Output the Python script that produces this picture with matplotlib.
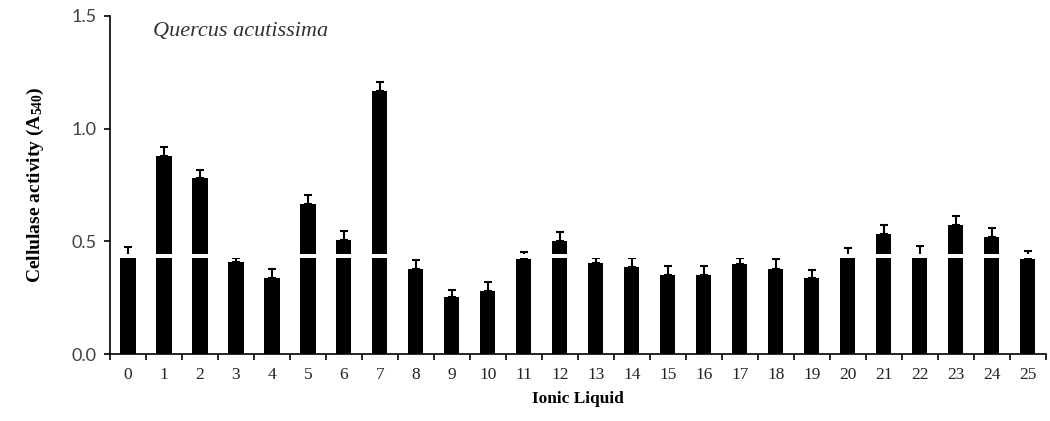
import numpy as np
import matplotlib
matplotlib.use("Agg")
import matplotlib.pyplot as plt
from matplotlib.ticker import FixedLocator

plt.rcParams["mathtext.fontset"] = "custom"
plt.rcParams["mathtext.rm"] = "Liberation Serif:bold"
plt.rcParams["mathtext.it"] = "Liberation Serif:bold"
plt.rcParams["mathtext.bf"] = "Liberation Serif:bold"

# values
ionic_liquid = [str(i) for i in range(26)]
activity = [0.425, 0.88, 0.779, 0.41, 0.336, 0.667, 0.507, 1.167, 0.379, 0.251,
            0.278, 0.42, 0.50, 0.405, 0.387, 0.353, 0.353, 0.399, 0.379, 0.339,
            0.43, 0.534, 0.427, 0.574, 0.521, 0.42]
err_up = [0.052, 0.04, 0.039, 0.015, 0.042, 0.038, 0.038, 0.04, 0.04, 0.033,
          0.04, 0.032, 0.04, 0.021, 0.039, 0.038, 0.038, 0.027, 0.041, 0.032,
          0.042, 0.039, 0.052, 0.039, 0.039, 0.038]
yticks = [0.0, 0.5, 1.0, 1.5]

fig = plt.figure(figsize=(10.5, 4.21), dpi=100)
ax = fig.add_axes([0.1048, 0.159, 0.891, 0.803])

x = np.arange(len(ionic_liquid))
ax.bar(x, activity, width=0.42, color="black", zorder=2)
ax.errorbar(x, activity, yerr=[np.zeros(len(x)), err_up], fmt="none",
            ecolor="black", elinewidth=1.5, capsize=3, capthick=1.5, zorder=2)

# white break line through the bars, as in the scanned figure
ax.axhspan(0.428, 0.446, xmin=0.004, xmax=1.0, color="white", lw=0, zorder=3)

ax.set_xlim(-0.5, len(x) - 0.5)
ax.set_ylim(0, 1.5)

for s in ("top", "right"):
    ax.spines[s].set_visible(False)
for s in ("left", "bottom"):
    ax.spines[s].set_linewidth(1.2)
    ax.spines[s].set_zorder(4)

ax.set_xticks(x)
ax.set_xticklabels(ionic_liquid, family="Liberation Serif", fontsize=12.5, color="#222222")
ax.tick_params(axis="x", which="major", length=0, pad=9)
ax.xaxis.set_minor_locator(FixedLocator(np.arange(-0.5, len(x), 1.0)))
ax.tick_params(axis="x", which="minor", length=4, width=1.2, direction="out")

ax.set_yticks(yticks)
ax.set_yticklabels([f"{v:.1f}" for v in yticks], family="Lato", fontsize=13, color="#404040")
ax.tick_params(axis="y", length=4, width=1.2, direction="out", pad=6)

ax.set_ylabel("Cellulase activity (A$_{540}$)", family="Liberation Serif",
              fontweight="bold", fontsize=14, labelpad=18)
ax.set_xlabel("Ionic Liquid", family="Liberation Serif", fontweight="bold",
              fontsize=12.5, labelpad=6)

ax.text(0.046, 0.955, "Quercus acutissima", transform=ax.transAxes,
        family="Liberation Serif", style="italic", fontsize=16,
        color="#333333", va="center", ha="left")

fig.savefig("out.png", dpi=100, facecolor="white")
